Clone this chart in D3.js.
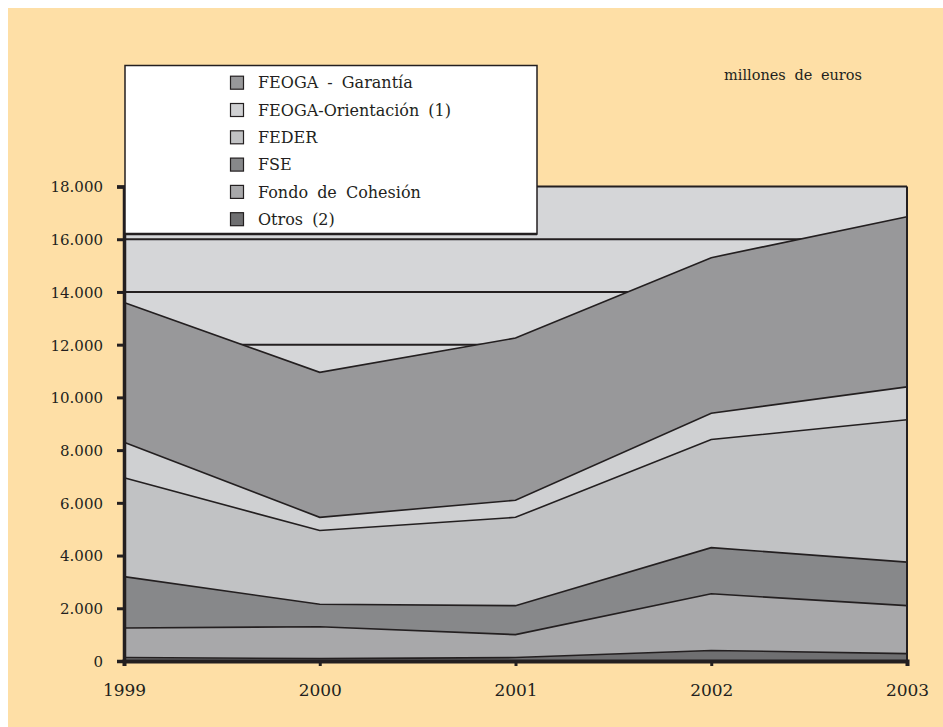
<!DOCTYPE html>
<html><head><meta charset="utf-8">
<script src="https://cdn.jsdelivr.net/npm/d3@7"></script>
<style>body{margin:0;background:#fff}svg{display:block}</style>
</head><body>
<script>
const years = ["1999","2000","2001","2002","2003"];
const seriesNames = ["Otros (2)","Fondo de Cohesión","FSE","FEDER","FEOGA-Orientación (1)","FEOGA - Garantía"];
const otros      = [130, 90, 130, 400, 280];
const cohesion   = [1120, 1210, 870, 2150, 1820];
const fse        = [1950, 850, 1100, 1750, 1650];
const feder      = [3750, 2800, 3350, 4100, 5400];
const orientacion= [1350, 500, 650, 1000, 1250];
const garantia   = [5300, 5500, 6150, 5900, 6450];
const yTicks = [0,2000,4000,6000,8000,10000,12000,14000,16000,18000];
const gridValues = [12000,14000,16000];
const colors = ["#6f6f71","#a8a8aa","#87888a","#c1c2c4","#cfd0d2","#98989a"];
const legendOrder = [5,4,3,2,1,0];

const W=943,H=727;
const svg=d3.select("body").append("svg").attr("width",W).attr("height",H);
svg.append("rect").attr("x",8).attr("y",8).attr("width",W-8).attr("height",H-8).attr("fill","#fedfa6");

const L=124,R=907,T=186.5,B=661;
const x=d3.scalePoint().domain(years).range([L,R]);
const y=d3.scaleLinear().domain([0,18000]).range([B,T]);
const ink="#231f20";
const font="'DejaVu Serif', serif";

svg.append("rect").attr("x",L).attr("y",T).attr("width",R-L).attr("height",B-T).attr("fill","#d5d6d8");
svg.selectAll("line.grid").data(gridValues).join("line")
  .attr("x1",L).attr("x2",R).attr("y1",d=>y(d)).attr("y2",d=>y(d))
  .attr("stroke",ink).attr("stroke-width",2);

const arrays=[otros,cohesion,fse,feder,orientacion,garantia];
const table=years.map((yr,i)=>{const o={year:yr};seriesNames.forEach((n,k)=>o[n]=arrays[k][i]);return o;});
const stacked=d3.stack().keys(seriesNames)(table);
const area=d3.area().x(d=>x(d.data.year)).y0(d=>y(d[0])).y1(d=>y(d[1]));
const topLine=d3.line().x(d=>x(d.data.year)).y(d=>y(d[1]));
svg.selectAll("path.area").data(stacked).join("path")
  .attr("d",area).attr("fill",(d,i)=>colors[i]);
svg.selectAll("path.top").data(stacked).join("path")
  .attr("d",topLine).attr("fill","none").attr("stroke",ink).attr("stroke-width",1.6);

// frame
svg.append("line").attr("x1",L).attr("x2",R).attr("y1",T).attr("y2",T).attr("stroke",ink).attr("stroke-width",2);
svg.append("line").attr("x1",R).attr("x2",R).attr("y1",T).attr("y2",B).attr("stroke",ink).attr("stroke-width",2);

// y axis
const yAxis=svg.append("g").attr("transform",`translate(${L},0)`)
  .call(d3.axisLeft(y).tickValues(yTicks).tickSize(7).tickPadding(14)
    .tickFormat(d=>d3.format(",")(d).replace(/,/g,".")));
yAxis.select(".domain").attr("stroke",ink).attr("stroke-width",3.5);
yAxis.selectAll(".tick line").attr("stroke",ink).attr("stroke-width",3);
yAxis.selectAll("text").attr("font-family",font).attr("font-size",15).attr("fill",ink).attr("dy","0.36em");

// x axis
const xAxis=svg.append("g").attr("transform",`translate(0,${B})`)
  .call(d3.axisBottom(x).tickSize(5).tickPadding(18));
xAxis.select(".domain").attr("stroke",ink).attr("stroke-width",4);
xAxis.selectAll(".tick line").attr("stroke",ink).attr("stroke-width",3);
xAxis.selectAll("text").attr("font-family",font).attr("font-size",17).attr("fill",ink);

// unit label
svg.append("text").attr("x",793).attr("y",80).attr("text-anchor","middle")
  .attr("font-family",font).attr("font-size",14.5).attr("word-spacing",4).attr("fill",ink)
  .text("millones de euros");

// legend
const lg=svg.append("g");
lg.append("rect").attr("x",125).attr("y",65.5).attr("width",412).attr("height",168.5)
  .attr("fill","#fff").attr("stroke",ink).attr("stroke-width",1.5);
lg.append("line").attr("x1",125).attr("x2",537).attr("y1",234).attr("y2",234).attr("stroke",ink).attr("stroke-width",2.5);
const rows=lg.selectAll("g.row").data(legendOrder).join("g")
  .attr("transform",(d,i)=>`translate(0,${82.7+i*27.3})`);
rows.append("rect").attr("x",230.5).attr("y",-6.5).attr("width",13).attr("height",13)
  .attr("fill",d=>colors[d]).attr("stroke",ink).attr("stroke-width",1.2);
rows.append("text").attr("x",258).attr("y",0).attr("dy","0.36em")
  .attr("font-family",font).attr("font-size",16).attr("word-spacing",4).attr("fill",ink)
  .text(d=>seriesNames[d]);
</script>
</body></html>
